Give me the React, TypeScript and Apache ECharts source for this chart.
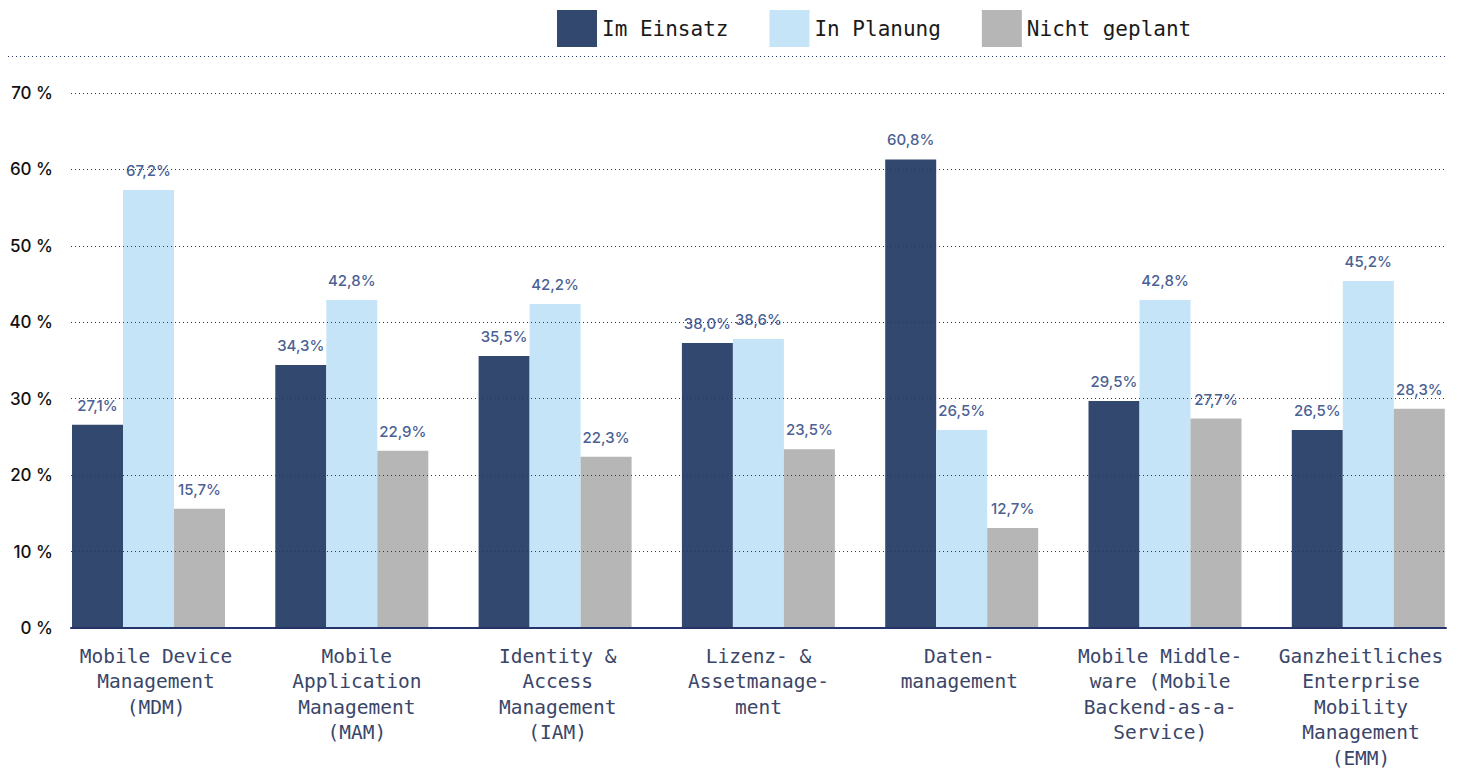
import { useEffect, useRef } from "react";
import * as echarts from "echarts";

const categories = [
  "Mobile Device\nManagement\n(MDM)",
  "Mobile\nApplication\nManagement\n(MAM)",
  "Identity &\nAccess\nManagement\n(IAM)",
  "Lizenz- &\nAssetmanage-\nment",
  "Daten-\nmanagement",
  "Mobile Middle-\nware (Mobile\nBackend-as-a-\nService)",
  "Ganzheitliches\nEnterprise\nMobility\nManagement\n(EMM)",
];

const seriesNames = ["Im Einsatz", "In Planung", "Nicht geplant"];

// bar heights as drawn in the picture
const imEinsatz = [26.6, 34.4, 35.6, 37.3, 61.3, 29.7, 25.9];
const inPlanung = [57.3, 42.9, 42.4, 37.8, 25.9, 42.9, 45.4];
const nichtGeplant = [15.6, 23.2, 22.4, 23.4, 13.1, 27.4, 28.7];

// printed value labels
const imEinsatzLabels = ["27,1%", "34,3%", "35,5%", "38,0%", "60,8%", "29,5%", "26,5%"];
const inPlanungLabels = ["67,2%", "42,8%", "42,2%", "38,6%", "26,5%", "42,8%", "45,2%"];
const nichtGeplantLabels = ["15,7%", "22,9%", "22,3%", "23,5%", "12,7%", "27,7%", "28,3%"];

const yMin = 0;
const yMax = 70;
const yInterval = 10;

const colors = ["#32486f", "#c5e4f7", "#b6b6b6"];
const navy = "#25346a";

export default function App() {
  const ref = useRef<HTMLDivElement>(null);

  useEffect(() => {
    if (!ref.current) return;
    const chart = echarts.init(ref.current, null, { renderer: "svg" });
    const values = [imEinsatz, inPlanung, nichtGeplant];
    const labels = [imEinsatzLabels, inPlanungLabels, nichtGeplantLabels];

    chart.setOption({
      animation: false,
      backgroundColor: "#ffffff",
      legend: {
        data: seriesNames,
        left: 552,
        top: 5,
        itemWidth: 40,
        itemHeight: 37,
        itemGap: 41,
        icon: "rect",
        textStyle: {
          fontFamily: "DejaVu Sans Mono",
          fontSize: 21,
          color: "#1a1a1a",
        },
      },
      grid: [
        { left: 46.85, right: 10.05, top: 93, bottom: 143 },
        { left: 55.6, right: 18.6, top: 93, bottom: 143 },
        { left: 71, right: 34, top: 93, bottom: 143 },
      ],
      xAxis: [
        {
          type: "category",
          gridIndex: 0,
          data: categories,
          axisLine: { show: false },
          axisTick: { show: false },
          axisLabel: { show: false },
          splitLine: { show: false },
        },
        {
          type: "category",
          gridIndex: 1,
          data: categories,
          axisLine: { show: false },
          axisTick: { show: false },
          splitLine: { show: false },
          axisLabel: {
            interval: 0,
            margin: 19,
            fontFamily: "DejaVu Sans Mono",
            fontSize: 19.5,
            lineHeight: 25.5,
            color: "#3a4669",
            align: "center",
            overflow: "none",
          },
        },
        {
          type: "category",
          gridIndex: 2,
          data: categories,
          z: 12,
          axisLine: { show: true, lineStyle: { color: navy, width: 2 } },
          axisTick: { show: false },
          axisLabel: { show: false },
          splitLine: { show: false },
        },
      ],
      yAxis: [
        {
          type: "value",
          gridIndex: 0,
          min: yMin,
          max: yMax,
          interval: yInterval,
          show: false,
          splitLine: { show: false },
        },
        {
          type: "value",
          gridIndex: 1,
          min: yMin,
          max: yMax,
          interval: yInterval,
          show: false,
          splitLine: { show: false },
        },
        {
          type: "value",
          gridIndex: 2,
          min: yMin,
          max: yMax,
          interval: yInterval,
          z: 10,
          axisLine: { show: false },
          axisTick: { show: false },
          axisLabel: {
            margin: 18,
            formatter: "{value} %",
            fontFamily: "Inter",
            fontSize: 17,
            fontWeight: 500,
            color: "#111111",
          },
          splitLine: {
            show: true,
            lineStyle: { color: navy, width: 1, type: [1, 3] },
          },
        },
      ],
      graphic: [
        {
          type: "line",
          shape: { x1: 8, y1: 56.5, x2: 1447, y2: 56.5 },
          style: { stroke: navy, lineWidth: 1, lineDash: [1, 3] },
          silent: true,
        },
      ],
      series: seriesNames.map((name, si) => ({
        name,
        type: "bar",
        xAxisIndex: 0,
        yAxisIndex: 0,
        data: values[si],
        barWidth: 51,
        barGap: "0%",
        itemStyle: { color: colors[si] },
        label: {
          show: true,
          position: "top",
          distance: 12,
          fontFamily: "Inter",
          fontSize: 15,
          fontWeight: 500,
          color: "#4b6194",
          formatter: (p: any) => labels[si][p.dataIndex],
        },
      })),
    });

    return () => chart.dispose();
  }, []);

  return (
    <div
      style={{
        position: "absolute",
        left: 0,
        top: 0,
        width: 1460,
        height: 771,
        overflow: "hidden",
      }}
    >
      <div ref={ref} style={{ width: 1480, height: 771 }} />
    </div>
  );
}
